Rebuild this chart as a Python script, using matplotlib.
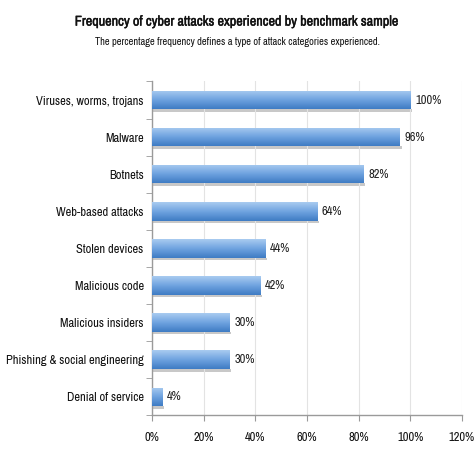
import matplotlib
matplotlib.use("Agg")
import matplotlib.pyplot as plt
import matplotlib.patheffects as pe
import numpy as np
from matplotlib import font_manager as fm
from matplotlib.colors import LinearSegmentedColormap

categories = ["Viruses, worms, trojans", "Malware", "Botnets", "Web-based attacks",
              "Stolen devices", "Malicious code", "Malicious insiders",
              "Phishing & social engineering", "Denial of service"]
values = [100, 96, 82, 64, 44, 42, 30, 30, 4]
xticks = [0, 20, 40, 60, 80, 100, 120]
xticklabels = ["0%", "20%", "40%", "60%", "80%", "100%", "120%"]

fam = "DejaVu Sans"
for f in fm.fontManager.ttflist:
    if "Narrow" in f.name:
        fam = f.name
        break
plt.rcParams['font.family'] = [fam, 'DejaVu Sans']
plt.rcParams['font.stretch'] = 'condensed'

fig = plt.figure(figsize=(4.75, 4.5), dpi=100)
ax = fig.add_axes([0.32, 0.077, 0.6526, 0.742])

y = np.arange(len(categories))
bars = ax.barh(y, values, height=0.5, color="#6a9fdc", edgecolor="none", zorder=2)

grad = np.linspace(0, 1, 64).reshape(-1, 1)
cmap = LinearSegmentedColormap.from_list("g", ["#a9cbf0", "#6fa3e0", "#3f7cc4"])
for i, b in enumerate(bars):
    x0, y0 = b.get_x(), b.get_y()
    w, h = b.get_width(), b.get_height()
    ax.add_patch(plt.Rectangle((x0, y0 + h), w + 0.6, 0.07, color="#c8c8c8", zorder=1, lw=0))
    im = ax.imshow(grad, cmap=cmap, aspect="auto", extent=(x0, x0 + w, y0 + h, y0),
                   origin="upper", zorder=3)
    im.set_clip_path(b)
    ax.text(x0 + w + 1.8, y0 + h / 2, f"{values[i]}%", va="center",
            ha="left", fontsize=9, color="#222222", zorder=4)

ax.set_yticks(y)
ax.set_yticklabels(categories, fontsize=9, color="#111111")
ax.set_ylim(len(categories) - 0.5, -0.5)
ax.set_xlim(0, 120)
ax.set_xticks(xticks)
ax.set_xticklabels(xticklabels, fontsize=9, color="#111111")
ax.tick_params(axis="x", length=4, color="#999999", pad=8)
ax.tick_params(axis="y", length=0, pad=6)
ax.set_yticks(np.arange(-0.5, len(categories), 1), minor=True)
ax.tick_params(axis="y", which="minor", length=4, color="#999999")
ax.grid(axis="x", color="#e3e3e3", lw=0.8, zorder=0)
for s in ["top", "right"]:
    ax.spines[s].set_visible(False)
for s in ["left", "bottom"]:
    ax.spines[s].set_color("#9a9a9a")
    ax.spines[s].set_linewidth(1.0)

fig.text(0.5, 0.952, "Frequency of cyber attacks experienced by benchmark sample",
         ha="center", va="center", fontsize=10.2, fontweight="bold", color="#111111",
         path_effects=[pe.withStroke(linewidth=0.3, foreground="#111111")])
fig.text(0.5, 0.907, "The percentage frequency defines a type of attack categories experienced.",
         ha="center", va="center", fontsize=7.5, color="#111111")

fig.savefig("out.png", dpi=100)
